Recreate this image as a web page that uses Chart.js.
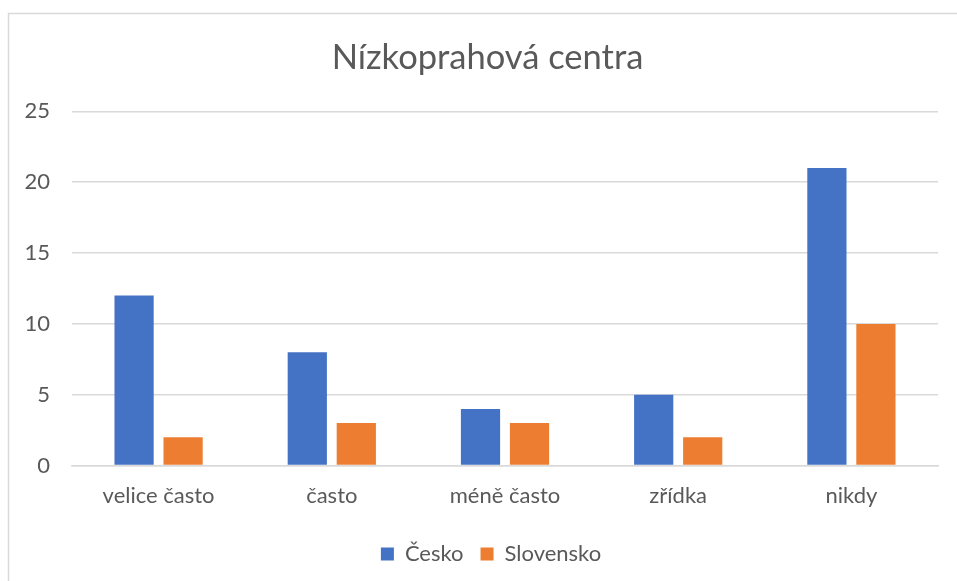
<!DOCTYPE html>
<html>
<head>
<meta charset="utf-8">
<script src="https://cdn.jsdelivr.net/npm/chart.js@4"></script>
<style>
  html, body { margin: 0; padding: 0; background: #fff; }
  #wrap { width: 957px; height: 581px; }
</style>
</head>
<body>
<div id="wrap"><canvas id="chart" width="957" height="581"></canvas></div>
<script>
const categories = ["velice často", "často", "méně často", "zřídka", "nikdy"];
const cesko = [12, 8, 4, 5, 21];
const slovensko = [2, 3, 3, 2, 10];
const seriesNames = ["Česko", "Slovensko"];
const yTicks = [0, 5, 10, 15, 20, 25];

const textColor = "#595959";
const gridColor = "#d9d9d9";
const fontFamily = "Lato, 'Open Sans', sans-serif";

// light frame round the whole chart, like the office chart border
const framePlugin = {
  id: "frame",
  afterLayout(chart) {
    // centre title and legend on the frame rather than on the canvas
    if (chart.titleBlock) chart.titleBlock.left = 37;
    if (chart.legend) chart.legend.left = 44;
  },
  beforeDraw(chart) {
    const ctx = chart.ctx;
    ctx.save();
    ctx.fillStyle = "#fff";
    ctx.fillRect(0, 0, chart.width, chart.height);
    ctx.strokeStyle = gridColor;
    ctx.lineWidth = 1.5;
    ctx.strokeRect(8.5, 13.5, chart.width + 20, chart.height + 20);
    ctx.restore();
  }
};

new Chart(document.getElementById("chart").getContext("2d"), {
  type: "bar",
  data: {
    labels: categories,
    datasets: [
      { label: seriesNames[0], data: cesko, backgroundColor: "#4472c4" },
      { label: seriesNames[1], data: slovensko, backgroundColor: "#ed7d31" }
    ]
  },
  plugins: [framePlugin],
  options: {
    responsive: false,
    animation: false,
    devicePixelRatio: 1,
    categoryPercentage: 0.566,
    barPercentage: 0.8,
    layout: { padding: { left: 0, right: 19, top: 0, bottom: 6 } },
    scales: {
      x: {
        grid: { display: false, drawTicks: false },
        border: { display: true, color: gridColor, width: 1.5 },
        ticks: {
          color: textColor,
          padding: 17,
          font: { family: fontFamily, size: 22 }
        }
      },
      y: {
        min: 0,
        max: 25,
        afterFit(scale) { scale.width = 72; },
        afterBuildTicks(scale) { scale.ticks = yTicks.map(v => ({ value: v })); },
        grid: { color: gridColor, lineWidth: 1.5, drawTicks: false },
        border: { display: false },
        ticks: {
          color: textColor,
          padding: 22,
          font: { family: fontFamily, size: 22 }
        }
      }
    },
    plugins: {
      title: {
        display: true,
        text: "Nízkoprahová centra",
        color: textColor,
        font: { family: fontFamily, size: 34.5, weight: "normal" },
        padding: { top: 37, bottom: 33 }
      },
      legend: {
        position: "bottom",
        labels: {
          color: textColor,
          boxWidth: 13,
          boxHeight: 13,
          padding: 17,
          font: { family: fontFamily, size: 22 }
        }
      },
      tooltip: { enabled: false }
    }
  }
});
</script>
</body>
</html>
